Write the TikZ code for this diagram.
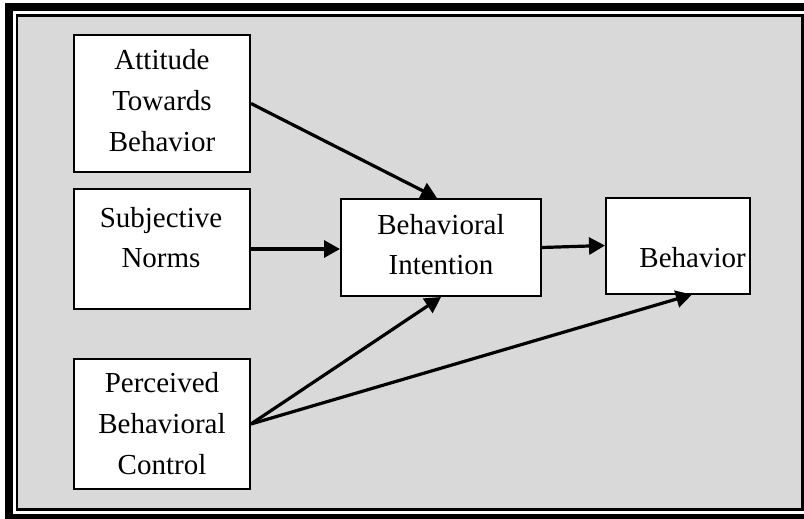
\documentclass[tikz,border=0pt]{standalone}
\usepackage{fontspec}
\setmainfont{Liberation Serif}
\usetikzlibrary{arrows.meta,calc}

% fixed 40pt line box so a node's centre is the mid-point of its baselines
\newcommand\lnstrut{\rule[-20pt]{0pt}{40pt}}

\begin{document}
\begin{tikzpicture}[x=1pt,y=-1pt,
  box/.style={draw=black,line width=2pt,fill=white,inner sep=0pt},
  lbl/.style={align=center,inner sep=0pt,font=\fontsize{29}{40}\selectfont},
  link/.style={line width=3.2pt,-{Triangle[length=16pt,width=17pt]}}]
  \useasboundingbox (0,0) rectangle (804,519);
  \fill[white] (0,0) rectangle (804,519);

  % double frame: heavy black border and the grey panel inside it
  \draw[line width=8pt] (9,7) rectangle (812,518);
  \draw[line width=2.5pt,fill=black!15] (17,15.5) rectangle (802.5,509.5);

  % boxes
  \node[box,minimum width=176pt,minimum height=137pt] (b1) at (162,103.5) {};
  \node[box,minimum width=176pt,minimum height=120pt] (b2) at (162,249) {};
  \node[box,minimum width=176pt,minimum height=130pt] (b3) at (162,424) {};
  \node[box,minimum width=200pt,minimum height=97pt] (b4) at (441,247.5) {};
  \node[box,minimum width=144pt,minimum height=96pt] (b5) at (678,245.5) {};

  % labels
  \node[lbl] (t1) at (162,110.7) {\lnstrut Attitude\\\lnstrut Towards\\\lnstrut Behavior};
  \node[lbl] (t2) at (161,247) {\lnstrut Subjective\\\lnstrut Norms};
  \node[lbl] (t3) at (162,433.3) {\lnstrut Perceived\\\lnstrut Behavioral\\\lnstrut Control};
  \node[lbl] (t4) at (441,254.7) {\lnstrut Behavioral\\\lnstrut Intention};
  \node[lbl] (t5) at (692.6,267.3) {\lnstrut Behavior};

  % connectors
  \draw[link] (b1.east) -- ([xshift=-4pt]b4.north);
  \draw[link] (b2.east) -- (b2.east -| b4.west);
  \draw[link] (b4.east) -- (b5.west);
  \draw[link] (b3.east) -- (b4.south);
  \draw[link] (b3.east) -- ([xshift=14pt]b5.south);
\end{tikzpicture}
\end{document}
